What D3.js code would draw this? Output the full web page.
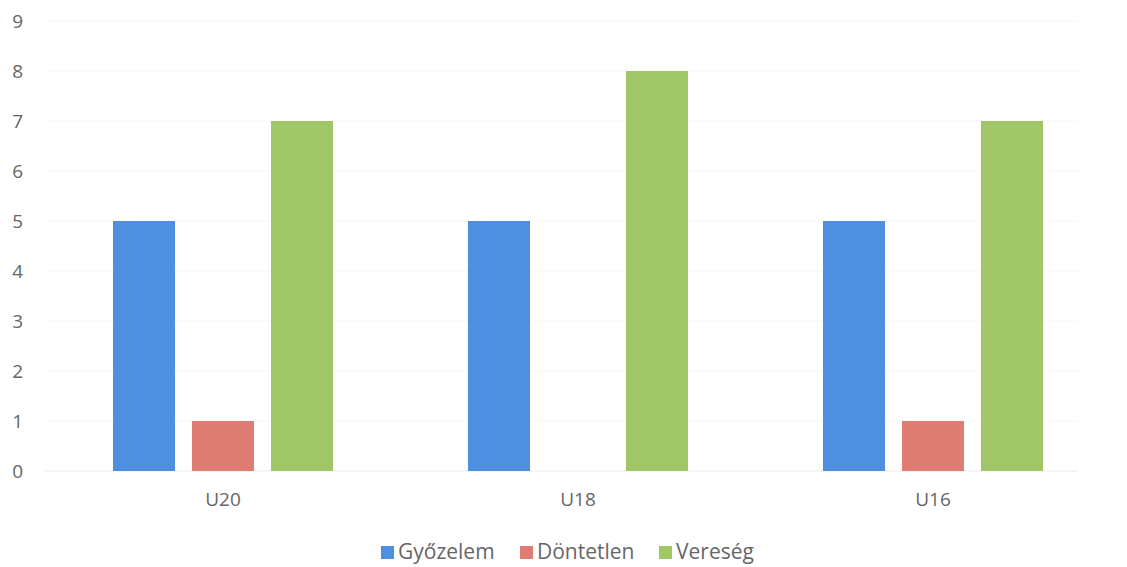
<!DOCTYPE html>
<html>
<head>
<meta charset="utf-8">
<script src="https://cdn.jsdelivr.net/npm/d3@7"></script>
<style>
  body { margin: 0; background: #fff; }
  text { font-family: "Open Sans", sans-serif; fill: #666; }
</style>
</head>
<body>
<div id="chart"></div>
<script>
// Data
const categories = ["U20", "U18", "U16"];
const seriesNames = ["Győzelem", "Döntetlen", "Vereség"];
const gyozelem = [5, 5, 5];
const dontetlen = [1, 0, 1];
const vereseg = [7, 8, 7];
const yTicks = [0, 1, 2, 3, 4, 5, 6, 7, 8, 9];
const colors = ["#4e8fdf", "#df7d74", "#a0c665"];

const width = 1127, height = 567;
const series = [gyozelem, dontetlen, vereseg];

const svg = d3.select("#chart").append("svg")
  .attr("width", width)
  .attr("height", height);

const y = d3.scaleLinear().domain([0, 9]).range([471, 21]);

const x = d3.scaleBand()
  .domain(categories)
  .range([45, 1110])
  .paddingInner(0)
  .paddingOuter(0);

// inner scale: 3 bars of 62 + gaps of 17 inside a 355 band
const xi = d3.scaleBand()
  .domain(seriesNames)
  .range([68, 288])
  .paddingInner(17 / 79)
  .paddingOuter(0);

// gridlines
svg.append("g")
  .selectAll("line")
  .data(yTicks)
  .enter()
  .append("line")
  .attr("x1", 45)
  .attr("x2", 1078)
  .attr("y1", d => y(d))
  .attr("y2", d => y(d))
  .attr("stroke", d => d === 0 ? "#ebebeb" : "#f6f6f6")
  .attr("stroke-width", 1);

// y tick labels
svg.append("g")
  .selectAll("text")
  .data(yTicks)
  .enter()
  .append("text")
  .attr("x", 23)
  .attr("y", d => y(d))
  .attr("dy", "0.36em")
  .attr("text-anchor", "end")
  .attr("font-size", 19)
  .text(d => d);

// bars
const groups = svg.append("g")
  .selectAll("g")
  .data(categories)
  .enter()
  .append("g")
  .attr("transform", d => `translate(${x(d)},0)`);

groups.selectAll("rect")
  .data((c, ci) => seriesNames.map((s, si) => ({ s, si, v: series[si][ci] })))
  .enter()
  .append("rect")
  .attr("x", d => xi(d.s))
  .attr("width", xi.bandwidth())
  .attr("y", d => y(d.v))
  .attr("height", d => y(0) - y(d.v))
  .attr("fill", d => colors[d.si]);

// category labels
svg.append("g")
  .selectAll("text")
  .data(categories)
  .enter()
  .append("text")
  .attr("x", d => x(d) + xi("Döntetlen") + xi.bandwidth() / 2)
  .attr("y", 506)
  .attr("text-anchor", "middle")
  .attr("font-size", 19)
  .text(d => d);

// legend
const legendX = [381, 520, 659];
const legend = svg.append("g")
  .selectAll("g")
  .data(seriesNames)
  .enter()
  .append("g")
  .attr("transform", (d, i) => `translate(${legendX[i]},0)`);

legend.append("rect")
  .attr("x", 0)
  .attr("y", 546)
  .attr("width", 13)
  .attr("height", 13)
  .attr("fill", (d, i) => colors[i]);

legend.append("text")
  .attr("x", 17)
  .attr("y", 559)
  .attr("font-size", 21)
  .text(d => d);
</script>
</body>
</html>
